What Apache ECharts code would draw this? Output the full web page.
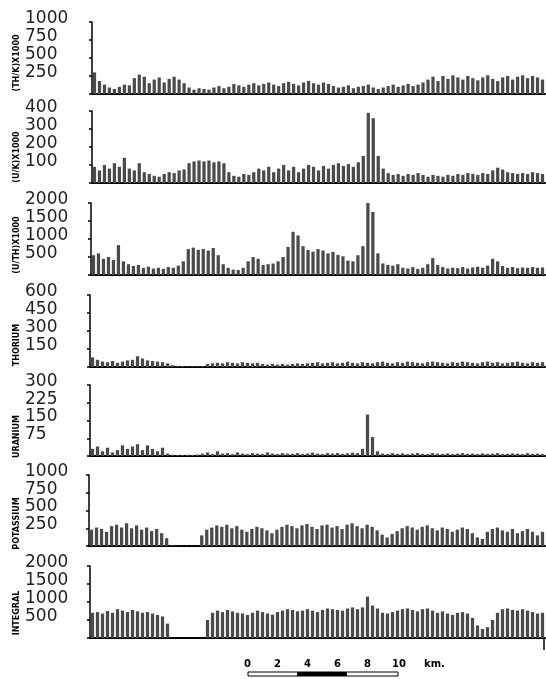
<!DOCTYPE html>
<html>
<head>
<meta charset="utf-8">
<script src="https://cdn.jsdelivr.net/npm/echarts@6/dist/echarts.min.js"></script>
<style>
html,body{margin:0;padding:0;background:#fff;}
#c{width:546px;height:679px;}
</style>
</head>
<body>
<div id="c"></div>
<script>
// ---- data (one value every ~5 px along the profile) ----
const categories = Array.from({length: 91}, (_, i) => i);

const axisTitles = ['(TH/K)X1000', '(U/K)X1000', '(U/TH)X1000', 'THORIUM', 'URANIUM', 'POTASSIUM', 'INTEGRAL'];
const axisMax = [1000, 400, 2000, 600, 300, 1000, 2000];

const thK = [300,180,130,90,70,100,130,120,220,270,240,150,200,230,160,210,240,200,150,90,
  60,80,70,60,90,110,80,100,140,120,100,130,150,120,140,160,130,110,150,170,
  140,120,160,180,150,130,160,140,110,90,100,120,80,100,110,130,90,70,90,110,
  130,100,120,140,110,130,160,200,240,180,250,210,260,230,200,250,220,190,230,260,
  210,180,230,250,200,240,260,220,250,230,200];

const uK = [90,70,100,80,110,90,140,80,70,110,60,50,40,35,50,60,55,70,75,110,
  120,125,120,125,115,120,110,60,40,35,50,45,60,80,70,90,60,80,100,70,
  90,60,80,100,90,70,95,80,100,110,95,105,90,115,150,390,360,150,80,55,
  45,50,40,50,45,55,45,35,45,40,35,45,40,50,45,55,50,45,55,50,
  70,85,75,60,55,50,55,50,60,55,50];

const uTh = [550,600,450,500,420,830,380,300,250,280,200,230,180,200,170,220,200,260,380,720,
  760,700,720,680,750,550,300,200,150,140,200,380,500,450,280,300,320,380,500,780,
  1200,1100,800,700,650,720,680,600,640,560,520,400,380,550,800,2000,1750,600,320,280,
  260,300,200,180,220,170,200,300,470,280,220,180,200,190,220,180,210,230,200,260,
  450,380,250,200,220,190,210,200,220,200,210];

const thorium = [80,60,45,40,50,35,45,55,60,90,70,55,50,45,40,30,15,10,8,6,
  8,6,8,25,30,35,30,40,35,30,40,35,30,35,25,20,25,20,25,20,
  25,30,25,30,35,40,30,35,40,30,35,45,35,30,40,35,30,40,45,35,
  30,40,35,45,40,35,30,40,45,40,35,30,40,35,45,40,35,30,40,45,
  35,40,30,35,40,45,35,30,40,35,40];

const uranium = [30,40,20,35,15,25,45,30,40,50,25,45,30,20,35,10,5,4,4,5,
  4,6,10,15,8,20,10,12,8,15,10,8,12,10,8,15,10,8,12,10,
  9,12,8,10,14,10,8,12,10,13,9,11,14,12,30,175,80,20,10,8,
  12,9,11,8,10,13,9,8,12,10,9,11,8,10,12,9,10,8,11,9,
  10,12,8,9,11,10,8,12,9,10,8];

const potassium = [230,260,240,200,280,300,260,320,250,290,230,260,210,240,180,110,10,5,5,5,
  5,5,150,230,260,290,270,300,250,280,230,200,240,270,250,220,180,230,270,300,
  280,250,290,310,270,240,290,300,260,280,240,300,320,280,250,300,270,220,160,120,
  170,210,250,280,260,230,270,290,250,220,260,240,200,230,260,240,180,120,100,200,
  240,260,220,200,240,180,210,240,200,150,200];

const integral = [700,720,680,750,700,800,760,720,780,740,700,720,680,640,600,400,0,0,0,0,
  0,0,0,500,700,760,720,780,740,700,680,640,700,760,720,680,650,720,760,800,
  780,740,760,800,760,720,780,820,800,780,760,820,850,800,850,1150,900,820,700,680,
  720,760,800,820,780,740,800,820,760,700,740,680,640,700,720,680,560,350,250,300,
  500,700,800,820,780,760,800,760,720,680,700];

const seriesData = [thK, uK, uTh, thorium, uranium, potassium, integral];
const scaleLabels = ['0', '2', '4', '6', '8', '10', 'km.'];

// ---- layout ----
const panelTop = [22, 111, 203, 295, 385, 475, 566];
const panelHeight = [72, 72, 72, 72, 71, 71, 72];
const panelLeft = [92, 92, 91, 90, 90, 89, 90];
const titleShift = [5, 10, 6, 14, 16, 13, 11];

const grids = [], xAxes = [], yAxes = [], series = [];
for (let k = 0; k < 7; k++) {
  grids.push({left: panelLeft[k], right: 1, top: panelTop[k], height: panelHeight[k]});
  xAxes.push({
    type: 'category', gridIndex: k, data: categories, boundaryGap: true,
    axisLine: {show: true, lineStyle: {color: '#000', width: 2}},
    axisTick: {show: false}, axisLabel: {show: false}, splitLine: {show: false}
  });
  yAxes.push({
    type: 'value', gridIndex: k, min: 0, max: axisMax[k], interval: axisMax[k] / 4,
    axisLine: {show: true, lineStyle: {color: '#000', width: 1.5}},
    axisTick: {show: true, inside: false, length: 3, lineStyle: {color: '#000', width: 1.5}},
    splitLine: {show: false},
    axisLabel: {
      formatter: v => (v === 0 ? '' : String(v)),
      align: 'left', margin: panelLeft[k] - 25,
      verticalAlign: 'bottom', lineHeight: 7,
      fontSize: 17, color: '#222',
      fontFamily: "'DejaVu Sans'"
    },
    name: axisTitles[k], nameLocation: 'middle', nameRotate: 90,
    nameGap: panelLeft[k] - 21, nameMoveOverlap: false,
    nameTextStyle: {
      fontSize: 8, fontWeight: 'bold', color: '#000',
      fontFamily: "'DejaVu Sans'",
      padding: [0, titleShift[k] * 2, 0, 0]
    }
  });
  series.push({
    type: 'bar', xAxisIndex: k, yAxisIndex: k, data: seriesData[k],
    barCategoryGap: '35%', itemStyle: {color: '#4a4a4a'}, silent: true, animation: false
  });
}

// scale bar graphics
const scaleX = [247, 277, 307, 337, 367, 398, 424];
const graphics = [];
scaleLabels.forEach((t, i) => {
  graphics.push({
    type: 'text', left: scaleX[i] - (i === 6 ? 0 : (t.length * 3)), top: 659,
    style: {text: t, fontSize: 10, fontWeight: 'bold', fill: '#000', fontFamily: "'DejaVu Sans'"}
  });
});
graphics.push({type: 'rect', shape: {x: 248, y: 672, width: 150, height: 4}, style: {fill: '#fff', stroke: '#000', lineWidth: 1}});
graphics.push({type: 'rect', shape: {x: 297, y: 672, width: 50, height: 4}, style: {fill: '#000'}});
graphics.push({type: 'line', shape: {x1: 544, y1: 637, x2: 544, y2: 650}, style: {stroke: '#000', lineWidth: 1.5}});

const chart = echarts.init(document.getElementById('c'), null, {renderer: 'canvas'});
chart.setOption({
  backgroundColor: '#fff',
  animation: false,
  grid: grids, xAxis: xAxes, yAxis: yAxes, series: series,
  graphic: graphics
});
</script>
</body>
</html>
